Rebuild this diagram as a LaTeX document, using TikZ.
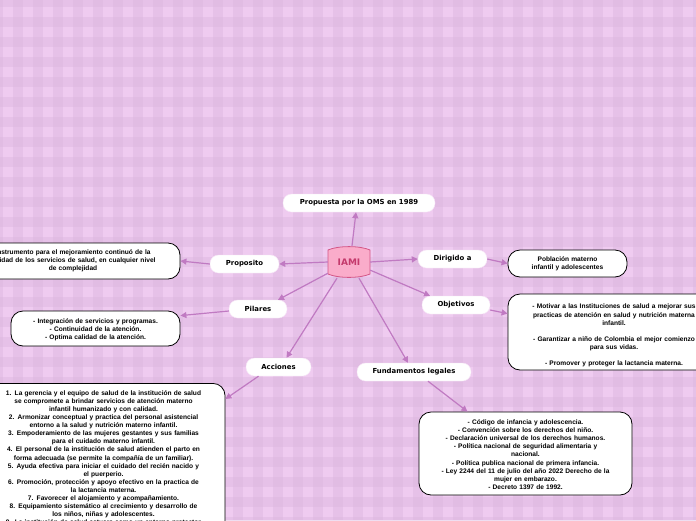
\documentclass[tikz,border=0pt]{standalone}
\usepackage{fontspec}
\setmainfont{Liberation Sans}
\newfontfamily\lblfont{DejaVu Sans}
\usetikzlibrary{arrows.meta,calc}

\definecolor{bgbase}{RGB}{239,203,240}
\definecolor{bgband}{RGB}{220,182,223}
\definecolor{linec}{RGB}{192,122,194}
\definecolor{iamifill}{RGB}{250,172,202}
\definecolor{iamiborder}{RGB}{212,86,134}
\definecolor{iamitext}{RGB}{196,58,108}
\definecolor{pillborder}{RGB}{246,228,246}

\begin{document}
\begin{tikzpicture}[x=1pt,y=-1pt,
 pill/.style={draw=pillborder, fill=white, rounded corners=8.5pt, minimum height=18pt, inner sep=0pt, font=\lblfont\bfseries\fontsize{6.9}{8}\selectfont},
 infobox/.style={draw=black, line width=0.8pt, fill=white, rounded corners=12pt, align=center, inner xsep=0pt, inner ysep=0pt, font=\bfseries\fontsize{6.6}{8.1}\selectfont},
 conn/.style={draw=linec, line width=1.2pt, -{Triangle[length=6pt,width=6pt]}},
 iamistyle/.style={minimum width=42pt, minimum height=32pt, inner sep=0pt, text=iamitext, font=\lblfont\bfseries\fontsize{9}{10}\selectfont},
]
\useasboundingbox (0,0) rectangle (696,520);
\clip (0,0) rectangle (696,520);
% background plaid
\fill[bgbase] (0,0) rectangle (696,520);
\foreach \i in {-1,...,35} {\fill[bgband, fill opacity=0.45] ({13+20*\i},0) rectangle ({23+20*\i},520);}
\foreach \j in {-1,...,26} {\fill[bgband, fill opacity=0.45] (0,{17+20*\j}) rectangle (696,{27+20*\j});}

% central node
\draw[iamiborder, fill=iamifill, line width=0.8pt] (328,250) .. controls (338,245.5) and (360,245.5) .. (370,250) -- (370,274) .. controls (360,278.5) and (338,278.5) .. (328,274) -- cycle;
\node[iamistyle] (iami) at (349,262) {IAMI};

% labels
\node[pill, minimum width=152pt] (propuesta) at (359,203) {Propuesta por la OMS en 1989};
\node[pill, minimum width=69pt] (proposito) at (244.5,264) {Proposito};
\node[pill, minimum width=58pt] (pilares) at (258,309) {Pilares};
\node[pill, minimum width=65pt] (acciones) at (278.5,367) {Acciones};
\node[pill, minimum width=69pt] (dirigido) at (452.5,259) {Dirigido a};
\node[pill, minimum width=68pt] (objetivos) at (456,305) {Objetivos};
\node[pill, minimum width=114pt] (fundamentos) at (414,372) {Fundamentos legales};

% info boxes
\node[infobox, text width=214pt, minimum height=36pt] (propbox) at (73,261)
 {Instrumento para el mejoramiento continuó de la\\calidad de los servicios de salud, en cualquier nivel\\de complejidad};
\node[infobox, text width=169pt, minimum height=35pt] (pilbox) at (95.5,328.5)
 {\rule{0pt}{8pt}- Integración de servicios y programas.\\- Continuidad de la atención.\\- Optima calidad de la atención.};
\node[infobox, text width=243pt, anchor=north, inner ysep=7pt] (actbox) at (103.5,383)
 {1. La gerencia y el equipo de salud de la institución de salud\\
 se compromete a brindar servicios de atención materno\\
 infantil humanizado y con calidad.\\
 2. Armonizar conceptual y practica del personal asistencial\\
 entorno a la salud y nutrición materno infantil.\\
 3. Empoderamiento de las mujeres gestantes y sus familias\\
 para el cuidado materno infantil.\\
 4. El personal de la institución de salud atienden el parto en\\
 forma adecuada (se permite la compañía de un familiar).\\
 5. Ayuda efectiva para iniciar el cuidado del recién nacido y\\
 el puerperio.\\
 6. Promoción, protección y apoyo efectivo en la practica de\\
 la lactancia materna.\\
 7. Favorecer el alojamiento y acompañamiento.\\
 8. Equipamiento sistemático al crecimiento y desarrollo de\\
 los niños, niñas y adolescentes.\\
 9. La institución de salud actuara como un entorno protector\\ \phantom{x}};
\node[infobox, text width=119pt, minimum height=27pt] (pobbox) at (567.5,263.5)
 {Población materno\\infantil y adolescentes};
\node[infobox, text width=212pt, minimum height=76pt] (objbox) at (614,332)
 {\rule{0pt}{12pt}- Motivar a las Instituciones de salud a mejorar sus\\practicas de atención en salud y nutrición materna\\infantil.\\[8.1pt]- Garantizar a niño de Colombia el mejor comienzo\\para sus vidas.\\[8.1pt]- Promover y proteger la lactancia materna.};
\node[infobox, text width=213pt, minimum height=83pt] (fundbox) at (525.5,453.5)
 {\rule{0pt}{7pt}- Código de infancia y adolescencia.\\- Convención sobre los derechos del niño.\\- Declaración universal de los derechos humanos.\\- Política nacional de seguridad alimentaria y\\nacional.\\- Política publica nacional de primera infancia.\\- Ley 2244 del 11 de julio del año 2022 Derecho de la\\mujer en embarazo.\\- Decreto 1397 de 1992.};

% connectors
\draw[conn] ([xshift=3pt]iami.north) -- ([xshift=-3pt]propuesta.south);
\draw[conn] (iami.west) -- (proposito.east);
\draw[conn] (proposito.west) -- (propbox.east);
\draw[conn] (iami.208) -- ([xshift=20pt]pilares.north);
\draw[conn] ([yshift=-2pt]pilares.west) -- ([yshift=-5pt]pilbox.north east);
\draw[conn] ([xshift=-12pt]iami.south) -- ([xshift=8pt]acciones.north);
\draw[conn] ([xshift=-20pt]acciones.south) -- ([yshift=-16pt]actbox.north east);
\draw[conn] (iami.east) -- (dirigido.west);
\draw[conn] (dirigido.east) -- (pobbox.west);
\draw[conn] (iami.-21) -- ([xshift=-26pt]objetivos.north);
\draw[conn] ([yshift=-5pt]objetivos.east) -- ([yshift=-20pt]objbox.north west);
\draw[conn] ([xshift=10pt]iami.south) -- ([xshift=-6pt]fundamentos.north);
\draw[conn] ([xshift=14pt]fundamentos.south) -- ([xshift=-58pt]fundbox.north);
\end{tikzpicture}
\end{document}
